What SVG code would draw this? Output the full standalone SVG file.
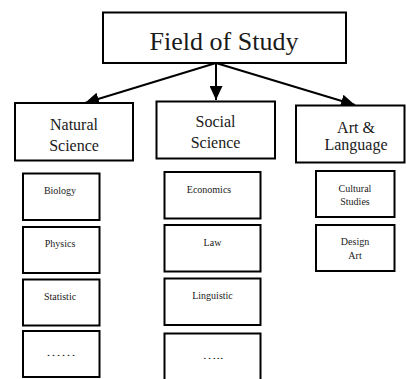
<svg xmlns="http://www.w3.org/2000/svg" width="406" height="379" viewBox="0 0 406 379">
<style>
.box{fill:#fff;stroke:#000;stroke-width:2}
.t{font-family:"Liberation Serif","Times New Roman",serif;fill:#1a1a1a;text-anchor:middle}
.big{font-size:26px}
.mid{font-size:16px}
.sm{font-size:10px}
.con{stroke:#000;stroke-width:2;fill:none}
</style>
<defs>
<marker id="ah" markerUnits="userSpaceOnUse" markerWidth="15" markerHeight="13" refX="14" refY="6.5" orient="auto">
<path d="M0,0 L14,6.5 L0,13 z" fill="#000"/>
</marker>
</defs>
<rect width="406" height="379" fill="#fff"/>
<g id="connectors">
<line class="con" x1="216" y1="63" x2="85" y2="103" marker-end="url(#ah)"/>
<line class="con" x1="216" y1="63" x2="216" y2="100" marker-end="url(#ah)"/>
<line class="con" x1="216" y1="63" x2="355" y2="105" marker-end="url(#ah)"/>
</g>
<g id="root">
<rect class="box" x="103" y="12.5" width="243" height="50.5"/>
<text class="t big" x="224" y="49.5">Field of Study</text>
</g>
<g id="natural">
<rect class="box" x="15" y="103" width="118" height="57.5"/>
<text class="t mid" x="74" y="130">Natural</text>
<text class="t mid" x="74" y="150.5">Science</text>
</g>
<g id="social">
<rect class="box" x="156.5" y="101.5" width="118.5" height="57"/>
<text class="t mid" x="215.5" y="127">Social</text>
<text class="t mid" x="215.5" y="148">Science</text>
</g>
<g id="art">
<rect class="box" x="296" y="105.5" width="108.5" height="57"/>
<text class="t mid" x="356" y="133">Art &amp;</text>
<text class="t mid" x="356" y="149.5">Language</text>
</g>
<g id="biology">
<rect class="box" x="23" y="173.5" width="76.5" height="46.5"/>
<text class="t sm" x="60" y="193.5">Biology</text>
</g>
<g id="physics">
<rect class="box" x="23" y="227" width="76.5" height="46"/>
<text class="t sm" x="60" y="246.5">Physics</text>
</g>
<g id="statistic">
<rect class="box" x="23" y="279.5" width="76.5" height="46"/>
<text class="t sm" x="60" y="299.5">Statistic</text>
</g>
<g id="more1">
<rect class="box" x="23" y="331" width="76.5" height="46"/>
<text class="t sm" x="61" y="356" textLength="30" lengthAdjust="spacingAndGlyphs">……</text>
</g>
<g id="economics">
<rect class="box" x="164.5" y="172" width="96" height="46.5"/>
<text class="t sm" x="209" y="192.5">Economics</text>
</g>
<g id="law">
<rect class="box" x="164.5" y="225" width="96" height="46.5"/>
<text class="t sm" x="212.5" y="246">Law</text>
</g>
<g id="linguistic">
<rect class="box" x="164.5" y="278.5" width="96" height="46.5"/>
<text class="t sm" x="212.5" y="298.5">Linguistic</text>
</g>
<g id="more2">
<rect class="box" x="164.5" y="333.5" width="96" height="47"/>
<text class="t sm" x="213" y="358.5" textLength="21" lengthAdjust="spacingAndGlyphs">…..</text>
</g>
<g id="cultural">
<rect class="box" x="316" y="171" width="78.5" height="46"/>
<text class="t sm" x="355" y="191.5">Cultural</text>
<text class="t sm" x="355" y="205">Studies</text>
</g>
<g id="design">
<rect class="box" x="316" y="225" width="78.5" height="46"/>
<text class="t sm" x="355" y="245">Design</text>
<text class="t sm" x="355" y="259">Art</text>
</g>
</svg>
